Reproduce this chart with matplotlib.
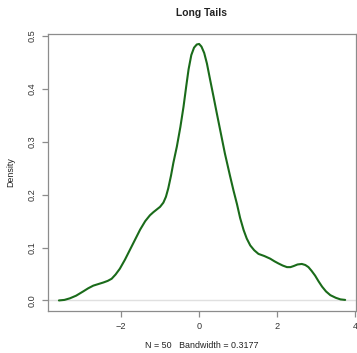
import matplotlib
matplotlib.use("Agg")
import matplotlib.pyplot as plt

plt.rcParams['font.family'] = ['Liberation Sans', 'DejaVu Sans']

# Density curve
xs = [-3.59, -3.45, -3.31, -3.15, -2.97, -2.84, -2.71, -2.58, -2.45, -2.34,
      -2.24, -2.14, -2.03, -1.90, -1.77, -1.64, -1.51, -1.38, -1.26, -1.17,
      -1.085, -1.00, -0.915, -0.85, -0.79, -0.72, -0.66, -0.57, -0.48, -0.40,
      -0.33, -0.27, -0.20, -0.13, -0.06, 0.00, 0.06, 0.13, 0.20, 0.28,
      0.37, 0.45, 0.54, 0.66, 0.79, 0.88, 0.97, 1.05, 1.14, 1.22,
      1.31, 1.41, 1.52, 1.67, 1.82, 1.93, 2.03, 2.14, 2.25, 2.34,
      2.42, 2.52, 2.63, 2.72, 2.80, 2.88, 2.97, 3.06, 3.15, 3.25,
      3.36, 3.50, 3.62, 3.74]
ys = [0.000, 0.001, 0.004, 0.009, 0.017, 0.023, 0.028, 0.031, 0.034, 0.037,
      0.041, 0.049, 0.060, 0.077, 0.096, 0.115, 0.134, 0.150, 0.161, 0.167,
      0.172, 0.177, 0.185, 0.196, 0.212, 0.236, 0.260, 0.291, 0.328, 0.366,
      0.405, 0.437, 0.464, 0.478, 0.484, 0.485, 0.480, 0.468, 0.448, 0.418,
      0.385, 0.355, 0.322, 0.278, 0.236, 0.208, 0.182, 0.156, 0.133, 0.117,
      0.104, 0.095, 0.088, 0.084, 0.079, 0.074, 0.070, 0.066, 0.063, 0.063,
      0.065, 0.068, 0.069, 0.067, 0.063, 0.056, 0.047, 0.036, 0.026, 0.017,
      0.010, 0.005, 0.002, 0.001]

xticks = [-2, 0, 2, 4]
yticks = [0.0, 0.1, 0.2, 0.3, 0.4, 0.5]
title = "Long Tails"
xlabel = "N = 50   Bandwidth = 0.3177"
ylabel = "Density"

W, H = 357, 353
fig = plt.figure(figsize=(W / 100, H / 100), dpi=100)
l, r, t, b = 48, 355.7, 33.7, 310.7
ax = fig.add_axes([l / W, 1 - b / H, (r - l) / W, (b - t) / H])

ax.axhline(0, color='#e0e0e0', lw=1.0, zorder=1)
ax.plot(xs, ys, color='#1a6b1a', lw=1.5, zorder=2,
        solid_capstyle='round', solid_joinstyle='round')

ax.set_xlim(-3.87, 4.01)
ax.set_ylim(-0.0194, 0.5044)
ax.set_xticks(xticks)
ax.set_xticklabels(["\u22122" if v < 0 else str(v) for v in xticks])
ax.set_yticks(yticks)
ax.set_yticklabels([f"{v:.1f}" for v in yticks], rotation=90, va='center')

for s in ax.spines.values():
    s.set_color('#8c8c8c')
    s.set_linewidth(0.9)
ax.tick_params(axis='both', colors='#8c8c8c', labelcolor='#333333',
               length=4.3, width=0.9, labelsize=6.6, pad=4)

ax.set_title(title, fontsize=7.4, fontweight='bold', color='#222222', pad=12.5)
ax.set_xlabel(xlabel, fontsize=6.4, color='#222222', labelpad=7)
ax.set_ylabel(ylabel, fontsize=6.4, color='#222222', labelpad=9)

fig.savefig("out.png", dpi=100, facecolor='white')
